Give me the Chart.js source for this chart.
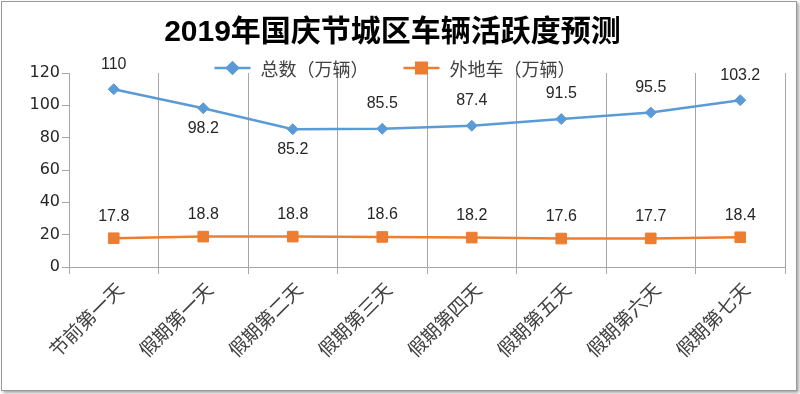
<!DOCTYPE html>
<html>
<head>
<meta charset="utf-8">
<script src="https://cdn.jsdelivr.net/npm/chart.js@4.4.1/dist/chart.umd.min.js"></script>
<style>
body { margin: 0; background: #fff; }
#wrap { position: relative; width: 800px; height: 394px; }
#frame { position: absolute; left: 1px; top: 1px; width: 794px; height: 388px; border: 1px solid #9a9a9a; box-shadow: 2px 2px 3px rgba(0,0,0,0.35); pointer-events: none; }
</style>
</head>
<body>
<div id="wrap"><canvas id="myChart" width="800" height="394"></canvas><div id="frame"></div></div>
<script>
// Data
const titleText = "2019年国庆节城区车辆活跃度预测"
const days = ["节前第一天", "假期第一天", "假期第二天", "假期第三天", "假期第四天", "假期第五天", "假期第六天", "假期第七天"]
const totalCars = [110, 98.2, 85.2, 85.5, 87.4, 91.5, 95.5, 103.2]
const outsideCars = [17.8, 18.8, 18.8, 18.6, 18.2, 17.6, 17.7, 18.4]
const seriesNames = ["总数（万辆）", "外地车（万辆）"]
const yMin = 0
const yMax = 120
const yStep = 20

// label placement: -1 above the point, 1 below
const labelSide = [
    [-1, 1, 1, -1, -1, -1, -1, -1],
    [-1, -1, -1, -1, -1, -1, -1, -1]
]
const labelGap = [25, 22]

const textColor = "#262626"
const gridColor = "#a6a6a6"

// data labels
const valueLabels = {
    id: "valueLabels",
    afterDatasetsDraw(chart) {
        const ctx = chart.ctx
        ctx.save()
        ctx.font = "16px 'Liberation Sans'"
        ctx.fillStyle = textColor
        ctx.textAlign = "center"
        ctx.textBaseline = "middle"
        chart.data.datasets.forEach((ds, d) => {
            chart.getDatasetMeta(d).data.forEach((pt, i) => {
                const side = labelSide[d][i]
                const gap = side < 0 ? labelGap[d] : 20
                ctx.fillText(ds.data[i], pt.x, pt.y + side * gap)
            })
        })
        ctx.restore()
    }
}

// legend: line + marker + text, centred near the top of the plot
const lineLegend = {
    id: "lineLegend",
    afterDraw(chart) {
        const ctx = chart.ctx
        const y = 68
        ctx.save()
        ctx.font = "18px 'Noto Sans CJK SC'"
        ctx.textBaseline = "middle"
        const items = chart.data.datasets.map(ds => ({ ds: ds, w: 36 + 10 + ctx.measureText(ds.label).width }))
        const space = 35
        let total = items.reduce((s, it) => s + it.w, 0) + space * (items.length - 1)
        let x = chart.width / 2 - total / 2 - 5
        items.forEach(it => {
            const ds = it.ds
            ctx.strokeStyle = ds.borderColor
            ctx.lineWidth = 2.5
            ctx.beginPath()
            ctx.moveTo(x, y)
            ctx.lineTo(x + 36, y)
            ctx.stroke()
            ctx.fillStyle = ds.borderColor
            Chart.helpers.drawPoint(ctx, {
                pointStyle: ds.pointStyle,
                radius: ds.pointRadius,
                borderWidth: 1
            }, x + 18, y)
            ctx.fillStyle = "#404040"
            ctx.fillText(ds.label, x + 46, y + 1)
            x += it.w + space
        })
        ctx.restore()
    }
}

const ctx = document.getElementById("myChart")
const chart = new Chart(ctx, {
    type: "line",
    data: {
        labels: days,
        datasets: [{
            label: seriesNames[0],
            data: totalCars,
            borderColor: "#5b9bd5",
            backgroundColor: "#5b9bd5",
            borderWidth: 2.5,
            pointStyle: "rectRot",
            pointRadius: 5.5,
            pointBorderWidth: 1,
            tension: 0
        }, {
            label: seriesNames[1],
            data: outsideCars,
            borderColor: "#ed7d31",
            backgroundColor: "#ed7d31",
            borderWidth: 2.5,
            pointStyle: "rect",
            pointRadius: 7.5,
            pointBorderWidth: 1,
            tension: 0
        }]
    },
    options: {
        responsive: false,
        animation: false,
        layout: {
            padding: { left: 0, right: 15, top: 0, bottom: 0 }
        },
        plugins: {
            legend: { display: false },
            tooltip: { enabled: false },
            title: {
                display: true,
                text: titleText,
                color: "#000",
                font: { size: 30, weight: "bold", family: "'Liberation Sans', 'Noto Sans CJK SC'" },
                padding: { top: 15, bottom: 22 }
            }
        },
        scales: {
            x: {
                offset: true,
                grid: { offset: true, color: gridColor, tickLength: 7, drawOnChartArea: true },
                border: { color: gridColor },
                ticks: {
                    minRotation: 45,
                    maxRotation: 45,
                    color: "#404040",
                    padding: 4,
                    labelOffset: 6,
                    font: { size: 19, family: "'Noto Sans CJK SC'" }
                },
                afterFit(scale) { scale.height = 127 }
            },
            y: {
                min: yMin,
                max: yMax,
                grid: { drawOnChartArea: false, color: gridColor, tickLength: 7 },
                border: { color: gridColor },
                ticks: {
                    stepSize: yStep,
                    color: textColor,
                    padding: 2,
                    font: { size: 16, family: "'DejaVu Sans'" }
                },
                afterFit(scale) { scale.width = 69 }
            }
        }
    },
    plugins: [valueLabels, lineLegend]
});
</script>
</body>
</html>
